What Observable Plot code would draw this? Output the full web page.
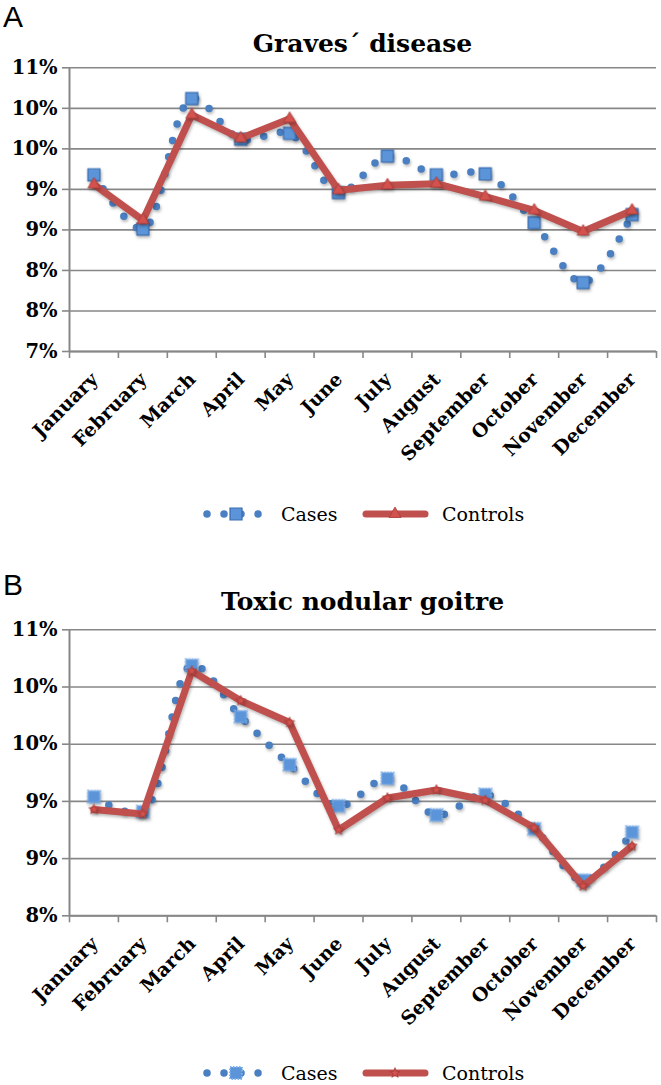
<!DOCTYPE html>
<html>
<head>
<meta charset="utf-8">
<script src="https://cdn.jsdelivr.net/npm/d3@7"></script>
<script src="https://cdn.jsdelivr.net/npm/@observablehq/plot@0.6"></script>
<style>
  body { margin: 0; background: #fff; }
  #wrap { position: relative; width: 661px; height: 1085px; overflow: hidden; background: #fff; }
  .letter { position: absolute; font-family: "Liberation Sans", Arial, sans-serif; font-size: 30px; line-height: 1; color: #000; }
  .title { position: absolute; left: 69px; width: 587px; text-align: center; font-family: "DejaVu Serif", serif; font-weight: bold; font-size: 25px; line-height: 1; color: #000; white-space: nowrap; }
  .abs { position: absolute; left: 0; }
</style>
</head>
<body>
<div id="wrap"></div>
<script>
// ---- data ----
const months = ["January","February","March","April","May","June","July","August","September","October","November","December"];

const casesA    = [9.18, 8.51, 10.12, 9.62, 9.69, 8.96, 9.41, 9.18, 9.19, 8.59, 7.85, 8.69];
const controlsA = [9.06, 8.62,  9.92, 9.63, 9.87, 8.99, 9.05, 9.07, 8.91, 8.74, 8.48, 8.74];

const casesB    = [9.04, 8.91, 10.19, 9.74, 9.32, 8.96, 9.20, 8.88, 9.06, 8.76, 8.31, 8.73];
const controlsB = [8.93, 8.89, 10.14, 9.88, 9.69, 8.75, 9.03, 9.10, 9.01, 8.77, 8.26, 8.61];

const yTicksA  = [7, 7.5, 8, 8.5, 9, 9.5, 10, 10.5];
const yLabelsA = ["7%", "8%", "8%", "9%", "9%", "10%", "10%", "11%"];
const yTicksB  = [8, 8.5, 9, 9.5, 10, 10.5];
const yLabelsB = ["8%", "9%", "9%", "10%", "10%", "11%"];

const titles = ["Graves\u00B4 disease", "Toxic nodular goitre"];
const seriesNames = ["Cases", "Controls"];

// ---- styles ----
const gray = "#878787";
const blue = "#4a7fc1";
const sqFill = "#5b94d8";
const sqStroke = "#3a6cb0";
const red = "#c0504d";
const triFill = "#d4524e";
const triStroke = "#a83b38";
const serif = "'DejaVu Serif', serif";

const wrap = document.getElementById("wrap");

function panel({cases, controls, yTicks, yLabels, top, height, marginTop, marginBottom, variant}) {
  const data = months.map((m, i) => ({m, pos: i + 0.5, cases: cases[i], controls: controls[i]}));
  const labelOf = new Map(yTicks.map((t, i) => [t, yLabels[i]]));
  const yDomain = [yTicks[0], yTicks[yTicks.length - 1]];
  const svg = Plot.plot({
    width: 661,
    height,
    marginTop,
    marginBottom,
    marginLeft: 69,
    marginRight: 5,
    x: {domain: [0, 12], axis: null},
    y: {domain: yDomain, axis: null},
    style: {background: "transparent", overflow: "visible", fontFamily: serif},
    marks: [
      Plot.ruleY(yTicks, {stroke: gray, strokeWidth: 1.6}),
      Plot.ruleX([0], {stroke: gray, strokeWidth: 2}),
      Plot.ruleY([yDomain[0]], {stroke: gray, strokeWidth: 2}),
      Plot.axisY(yTicks, {tickSize: 7, tickPadding: 5, tickFormat: d => labelOf.get(d), stroke: gray, strokeWidth: 1.6, fill: "#000", fontSize: 19.5, fontWeight: "bold", fontFamily: serif, label: null}),
      Plot.axisX(d3.range(13), {tickSize: 7, tickFormat: () => "", stroke: gray, strokeWidth: 1.6, label: null}),
      Plot.text(data, {x: "pos", frameAnchor: "bottom", text: "m", rotate: -45, textAnchor: "end", dx: 5, dy: 29, fontSize: 19, fontWeight: "bold", fontFamily: serif, fill: "#000"}),
      Plot.line(data, {x: "pos", y: "cases", curve: "catmull-rom", stroke: blue, strokeWidth: 7.5, strokeDasharray: "0 17", strokeLinecap: "round"}),
      Plot.dot(data, {x: "pos", y: "cases", symbol: "square", r: 6.8, fill: sqFill, stroke: variant === "B" ? "#7fb0ea" : sqStroke, strokeWidth: variant === "B" ? 2 : 1.2, strokeDasharray: variant === "B" ? "1.5 1.5" : null}),
      Plot.line(data, {x: "pos", y: "controls", stroke: red, strokeWidth: 7, strokeLinejoin: "miter", strokeLinecap: "round"}),
      Plot.dot(data, {x: "pos", y: "controls", symbol: variant === "B" ? "star" : "triangle", r: variant === "B" ? 3.2 : 4.5, fill: triFill, stroke: triStroke, strokeWidth: 0.8})
    ]
  });
  svg.style.position = "absolute";
  svg.style.left = "0px";
  svg.style.top = top + "px";
  d3.select(svg).selectAll('g[aria-label="line"], g[aria-label="dot"]')
    .style("filter", "drop-shadow(1px 2px 1.5px rgba(0,0,0,0.28))");
  wrap.appendChild(svg);
}

function legend(cy, variant) {
  const h = 34;
  const svg = d3.create("svg").attr("width", 661).attr("height", h)
    .attr("class", "abs").style("top", (cy - h / 2) + "px");
  const y = h / 2;
  svg.append("line").attr("x1", 207).attr("x2", 259).attr("y1", y).attr("y2", y)
    .attr("stroke", blue).attr("stroke-width", 7.5).attr("stroke-dasharray", "0 17").attr("stroke-linecap", "round");
  svg.append("path").attr("d", d3.symbol(d3.symbolSquare, 12 * 12)())
    .attr("transform", `translate(236,${y})`).attr("fill", sqFill)
    .attr("stroke", variant === "B" ? "#7fb0ea" : sqStroke).attr("stroke-width", variant === "B" ? 2 : 1.2)
    .attr("stroke-dasharray", variant === "B" ? "1.5 1.5" : null);
  svg.append("text").attr("x", 281).attr("y", y).attr("dy", "0.35em").text(seriesNames[0])
    .attr("font-family", "'DejaVu Serif', serif").attr("font-size", 19).attr("fill", "#000");
  svg.append("line").attr("x1", 366).attr("x2", 425).attr("y1", y).attr("y2", y)
    .attr("stroke", red).attr("stroke-width", 7).attr("stroke-linecap", "round");
  svg.append("path").attr("d", d3.symbol(variant === "B" ? d3.symbolStar : d3.symbolTriangle, variant === "B" ? 32 : 62)())
    .attr("transform", `translate(395,${y})`).attr("fill", triFill).attr("stroke", triStroke).attr("stroke-width", 0.8);
  svg.append("text").attr("x", 442).attr("y", y).attr("dy", "0.35em").text(seriesNames[1])
    .attr("font-family", "'DejaVu Serif', serif").attr("font-size", 19).attr("fill", "#000");
  wrap.appendChild(svg.node());
}

function htmlText(cls, text, left, top) {
  const d = document.createElement("div");
  d.className = cls;
  d.textContent = text;
  if (left != null) d.style.left = left + "px";
  d.style.top = top + "px";
  wrap.appendChild(d);
}

// Panel A
htmlText("letter", "A", 3, 2);
htmlText("title", titles[0], null, 31);
panel({cases: casesA, controls: controlsA, yTicks: yTicksA, yLabels: yLabelsA, top: 0, height: 480, marginTop: 67.3, marginBottom: 129, variant: "A"});
legend(514, "A");

// Panel B
htmlText("letter", "B", 3, 570);
htmlText("title", titles[1], null, 589);
panel({cases: casesB, controls: controlsB, yTicks: yTicksB, yLabels: yLabelsB, top: 560, height: 500, marginTop: 69.3, marginBottom: 144.7, variant: "B"});
legend(1073, "B");
</script>
</body>
</html>
